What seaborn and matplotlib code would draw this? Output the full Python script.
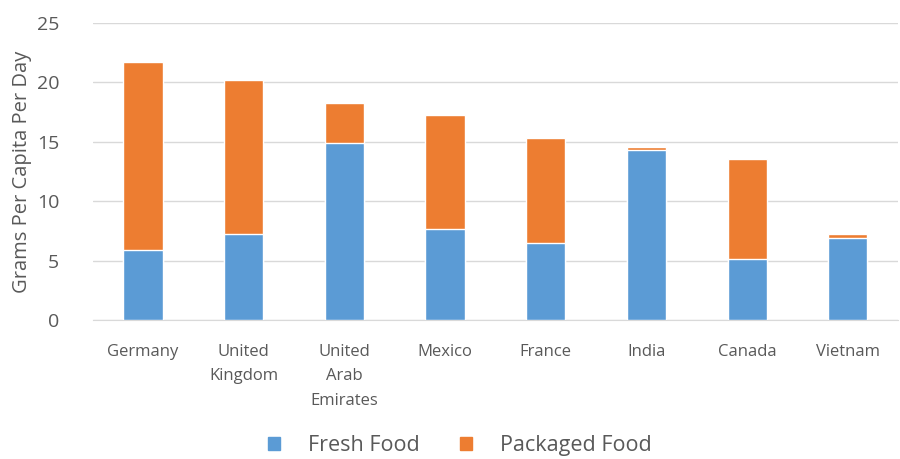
import pandas as pd
import seaborn as sns
import matplotlib.pyplot as plt
from matplotlib.patches import Patch

# Datos
paises = ["Germany", "United\nKingdom", "United\nArab\nEmirates", "Mexico",
          "France", "India", "Canada", "Vietnam"]
fresh = [5.9, 7.3, 14.9, 7.7, 6.5, 14.3, 5.2, 6.9]
packaged = [15.8, 12.9, 3.4, 9.6, 8.8, 0.3, 8.4, 0.4]

df = pd.DataFrame({"Country": paises, "Fresh Food": fresh, "Packaged Food": packaged})
df["Total"] = df["Fresh Food"] + df["Packaged Food"]

azul = "#5B9BD5"
naranja = "#ED7D31"
gris = "#595959"

sns.set_style("white")
plt.rcParams["font.family"] = ["Open Sans", "DejaVu Sans"]

fig = plt.figure(figsize=(9, 4.59), dpi=100)
ax = fig.add_axes([0.103, 0.302, 0.895, 0.648])

# barras apiladas: total en naranja, fresco encima en azul
sns.barplot(data=df, x="Country", y="Total", color=naranja, width=0.39,
            saturation=1, ax=ax, zorder=2)
sns.barplot(data=df, x="Country", y="Fresh Food", color=azul, width=0.39,
            saturation=1, ax=ax, zorder=3)

ax.set_ylim(0, 25)
ax.set_xlim(-0.5, 7.5)
ax.set_yticks([0, 5, 10, 15, 20, 25])
ax.yaxis.grid(True, color="#D9D9D9", linewidth=1)
ax.set_axisbelow(True)
for s in ax.spines.values():
    s.set_visible(False)
ax.spines["bottom"].set_visible(True)
ax.spines["bottom"].set_color("#D9D9D9")

ax.tick_params(axis="y", length=0, labelsize=14, labelcolor=gris, pad=24)
ax.tick_params(axis="x", length=0, labelsize=12, labelcolor=gris, pad=17)
for lbl in ax.get_xticklabels():
    lbl.set_linespacing(1.7)
    lbl.set_verticalalignment("top")

ax.set_xlabel("")
ax.set_ylabel("Grams Per Capita Per Day", fontsize=14.5, color=gris)
ax.yaxis.set_label_coords(-0.075, 0.5)

handles = [Patch(color=azul, label="Fresh Food"), Patch(color=naranja, label="Packaged Food")]
fig.legend(handles=handles, loc="center", bbox_to_anchor=(0.511, 0.03), ncol=2,
           frameon=False, fontsize=15.5, handlelength=0.55, handleheight=0.55,
           columnspacing=1.9, handletextpad=1.3, labelcolor=gris)

fig.savefig("out.png", dpi=100)
